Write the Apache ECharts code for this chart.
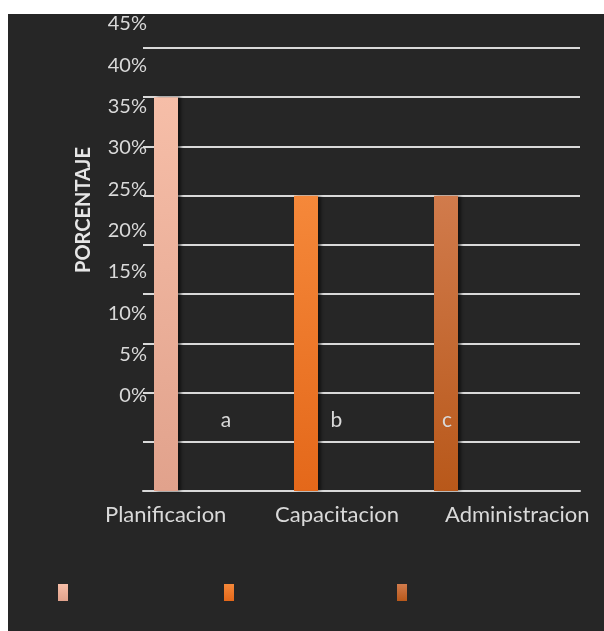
<!DOCTYPE html>
<html><head><meta charset="utf-8">
<script src="https://cdn.jsdelivr.net/npm/echarts@6/dist/echarts.min.js"></script>
<style>
html,body{margin:0;padding:0;background:#fff;}
#bg{position:absolute;left:8px;top:14px;width:596px;height:617px;background:#262626;}
#chart{position:absolute;left:0;top:0;width:604px;height:631px;}
</style></head><body>
<div id="bg"></div><div id="chart"></div>
<script>
// ---- data ----
const categories = ['Planificacion', 'Capacitacion', 'Administracion'];
const seriesNames = ['a', 'b', 'c'];
const values = [40, 30, 30];           // bar heights in grid-line units (%)
const yTickMin = 0, yTickMax = 45, yTickStep = 5;   // tick labels 0% .. 45%
const topColors = ['#f6bea8', '#f5883a', '#d17b4c'];
const bottomColors = ['#e1a28c', '#e4681a', '#b8581a'];

const FONT = 'Lato';
const TXT = '#d9d9d9';

const chart = echarts.init(document.getElementById('chart'), null, {renderer: 'canvas'});

const series = seriesNames.map((name, i) => ({
  name: name,
  type: 'bar',
  xAxisIndex: 0, yAxisIndex: 0,
  stack: 'all',
  barWidth: 24,
  z: 5,
  data: categories.map((c, j) => (j === i ? values[i] : '-')),
  itemStyle: {
    color: new echarts.graphic.LinearGradient(0, 0, 0, 1, [
      {offset: 0, color: topColors[i]}, {offset: 1, color: bottomColors[i]}
    ]),
    shadowColor: 'rgba(0,0,0,0.55)', shadowBlur: 3, shadowOffsetX: 3
  }
}));

const legendLefts = [53, 219, 392];
const legends = seriesNames.map((name, i) => ({
  data: [name], left: legendLefts[i], top: 579,
  itemWidth: 10, itemHeight: 17, icon: 'rect', itemGap: 0,
  formatter: () => '', selectedMode: false,
  textStyle: {fontSize: 1}
}));

const option = {
  backgroundColor: 'transparent',
  animation: false,
  legend: legends,
  grid: [
    {left: 96, right: 88, top: 48, bottom: 140},   // bars
    {left: 143, right: 24, top: 48, bottom: 140},  // grid lines
    {left: 149, width: 1, top: 24, bottom: 235},   // percent labels
    {left: 105, right: 159, top: 400, bottom: 140},// category labels
    {left: 226, right: 157, top: 300, bottom: 231} // a b c labels
  ],
  xAxis: [
    {gridIndex: 0, type: 'category', data: categories, show: false},
    {gridIndex: 1, type: 'category', data: categories,
      axisLine: {show: true, lineStyle: {color: TXT, width: 2}},
      axisTick: {show: false}, axisLabel: {show: false}},
    {gridIndex: 2, type: 'value', show: false},
    {gridIndex: 3, type: 'category', data: categories, boundaryGap: false,
      axisLine: {show: false}, axisTick: {show: false},
      axisLabel: {interval: 0, align: 'left', margin: 13, fontSize: 22, color: TXT, fontFamily: FONT}},
    {gridIndex: 4, type: 'category', data: seriesNames, boundaryGap: false, z: 10,
      axisLine: {show: false}, axisTick: {show: false},
      axisLabel: {interval: 0, margin: 10, fontSize: 21, color: TXT, fontFamily: FONT}}
  ],
  yAxis: [
    {gridIndex: 0, type: 'value', min: 0, max: 45, show: false},
    {gridIndex: 1, type: 'value', min: 0, max: 45, interval: 5,
      axisLabel: {show: false}, axisLine: {show: false}, axisTick: {show: false},
      splitLine: {show: true, lineStyle: {color: TXT, width: 2}}},
    {gridIndex: 2, type: 'value', min: yTickMin, max: yTickMax, interval: yTickStep,
      axisLabel: {formatter: '{value}%', fontSize: 20, color: TXT, margin: 2, fontFamily: FONT},
      splitLine: {show: false}, axisLine: {show: false}, axisTick: {show: false},
      name: 'PORCENTAJE', nameLocation: 'middle', nameGap: 55, nameRotate: 90,
      nameTextStyle: {fontWeight: 'bold', fontSize: 20, color: '#e6e6e6', fontFamily: FONT}},
    {gridIndex: 3, type: 'value', show: false},
    {gridIndex: 4, type: 'value', show: false}
  ],
  series: series
};
chart.setOption(option);
</script>
</body></html>
